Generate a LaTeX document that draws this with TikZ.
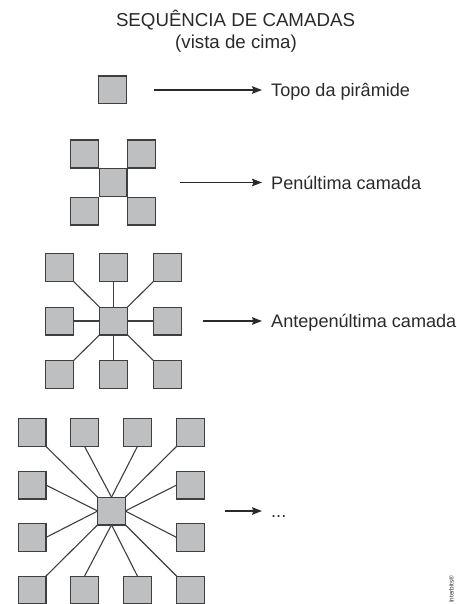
\documentclass[tikz,border=0pt]{standalone}
\usepackage{fontspec}
\setmainfont{Liberation Sans}
\usetikzlibrary{arrows.meta}
\definecolor{sqfill}{HTML}{BEBFC1}
\definecolor{sqdraw}{HTML}{3F3F3F}
\definecolor{ink}{HTML}{2A2A2A}
\tikzset{
  sq/.style={draw=sqdraw, fill=sqfill, line width=1.4pt, minimum size=27.6pt, inner sep=0pt, outer sep=0pt},
  link/.style={draw=sqdraw, line width=1.1pt},
  arr/.style={draw=ink, line width=1.5pt, -{Stealth[length=10pt,width=7.5pt,inset=1.5pt]}},
  lbl/.style={text=ink, font=\fontsize{18.1}{21}\selectfont, inner sep=0pt, text height=13pt, text depth=0pt, anchor=west},
  ttl/.style={text=ink, font=\fontsize{18.7}{22}\selectfont, inner sep=0pt, anchor=base}
}
\begin{document}
\begin{tikzpicture}[x=1pt,y=-1pt]
\useasboundingbox (0,0) rectangle (456,604);
% title
\node[ttl] (title1) at (235.5,27) {SEQUÊNCIA DE CAMADAS};
\node[ttl] (title2) at (236,49) {(vista de cima)};
% row 1
\node[sq] (r1c) at (112.5,90) {};
\coordinate (a1) at (154,90);
\node[lbl] (t1) at (271,90) {Topo da pirâmide};
\draw[arr] (a1) -- ([xshift=-9pt]t1.west);
% row 2
\begin{scope}[shift={(113,182.5)}]
\node[sq] (r2tl) at (-28.5,-28.5) {};
\node[sq] (r2tr) at (28.5,-28.5) {};
\node[sq] (r2bl) at (-28.5,28.5) {};
\node[sq] (r2br) at (28.5,28.5) {};
\node[sq] (r2c) at (0,0) {};
\end{scope}
\coordinate (a2) at (180,182.5);
\node[lbl] (t2) at (271,182.5) {Penúltima camada};
\draw[arr] (a2) -- ([xshift=-9pt]t2.west);
% row 3
\begin{scope}[shift={(113.5,321)}]
\node[sq] (r3c) at (0,0) {};
\foreach \n/\dx/\dy in {tl/-54/-53.5, tm/0/-53.5, tr/54/-53.5, ml/-54/0, mr/54/0, bl/-54/53.5, bm/0/53.5, br/54/53.5}{
  \node[sq] (r3\n) at (\dx,\dy) {};
  \draw[link] (r3c) -- (r3\n);
}
\end{scope}
\coordinate (a3) at (203,321);
\node[lbl] (t3) at (271,321) {Antepenúltima camada};
\draw[arr] (a3) -- ([xshift=-9pt]t3.west);
% row 4
\begin{scope}[shift={(111.5,511)}]
\node[sq] (r4c) at (0,0) {};
% corners
\node[sq] (r4a) at (-79.5,-78.5) {};
\node[sq] (r4d) at (79,-78.5) {};
\node[sq] (r4m) at (-79.5,79) {};
\node[sq] (r4p) at (79,79) {};
% top / bottom middles
\node[sq] (r4b) at (-27,-78.5) {};
\node[sq] (r4c2) at (26,-78.5) {};
\node[sq] (r4n) at (-27,79) {};
\node[sq] (r4o) at (26,79) {};
% sides
\node[sq] (r4e) at (-79.5,-26) {};
\node[sq] (r4f) at (79,-26) {};
\node[sq] (r4g) at (-79.5,26.5) {};
\node[sq] (r4h) at (79,26.5) {};
\end{scope}
\draw[link] (r4a.south east) -- (r4c.north west);
\draw[link] (r4d.south west) -- (r4c.north east);
\draw[link] (r4m.north east) -- (r4c.south west);
\draw[link] (r4p.north west) -- (r4c.south east);
\draw[link] (r4b.south) -- (r4c.north);
\draw[link] (r4c2.south) -- (r4c.north);
\draw[link] (r4n.north) -- (r4c.south);
\draw[link] (r4o.north) -- (r4c.south);
\draw[link] (r4e.east) -- (r4c.west);
\draw[link] (r4g.east) -- (r4c.west);
\draw[link] (r4f.west) -- (r4c.east);
\draw[link] (r4h.west) -- (r4c.east);
\coordinate (a4) at (225,511);
\node[lbl] (t4) at (271,511) {...};
\draw[arr] (a4) -- ([xshift=-9pt]t4.west);
% credit
\node[text=ink, font=\fontsize{6.3}{7}\selectfont, inner sep=0pt, rotate=90, anchor=base west] (credit) at (453.5,603) {Interbits®};
\end{tikzpicture}
\end{document}
